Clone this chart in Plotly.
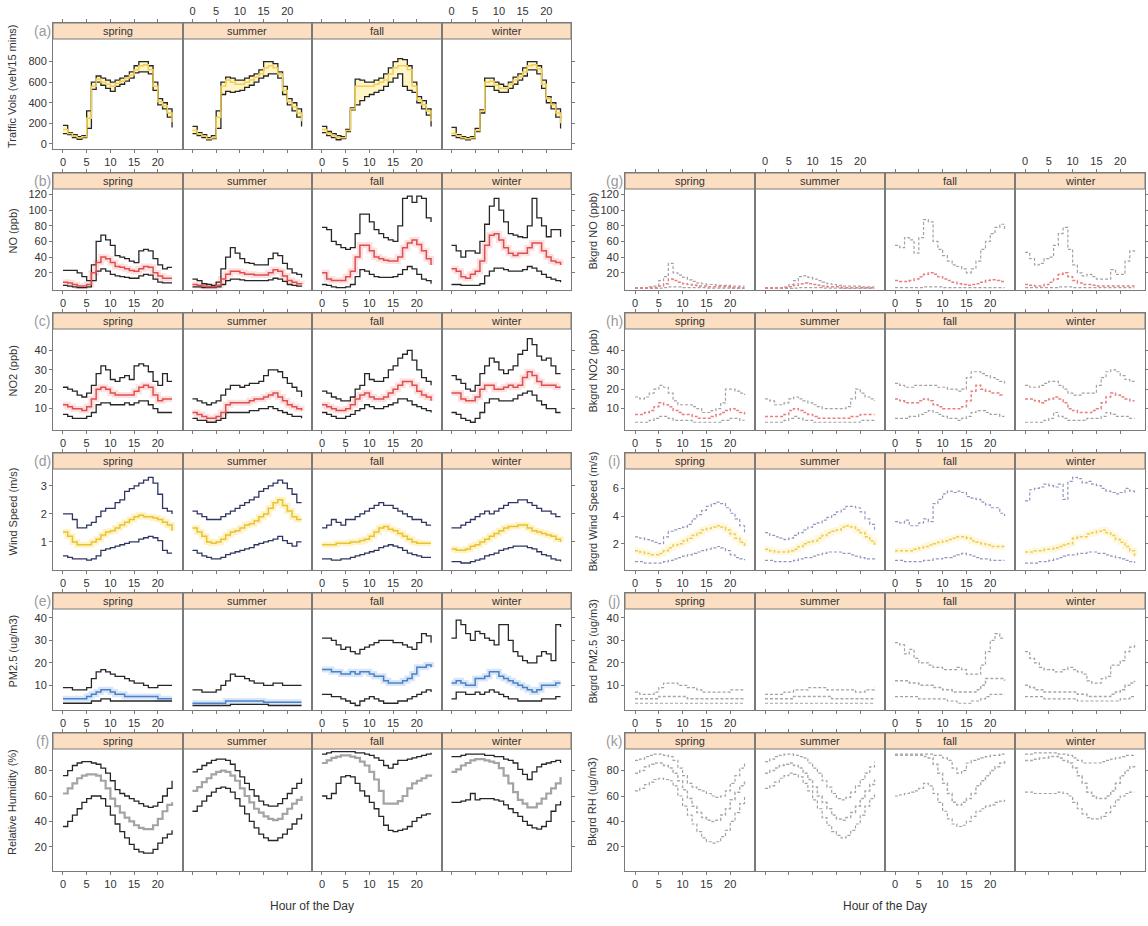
import plotly.graph_objects as go

hours = list(range(24))
seasons = ["spring", "summer", "fall", "winter"]
xtick_vals = [0, 5, 10, 15, 20]

# ---------------- (a) Traffic volume ----------------
traffic_hi = [
    [180,110,90,70,80,320,600,660,640,620,600,620,640,660,700,760,800,800,760,600,440,400,340,260],
    [170,110,90,60,80,320,600,650,640,620,620,640,660,680,720,800,800,780,700,560,440,400,340,260],
    [170,120,100,80,70,140,350,630,620,600,600,620,640,680,740,800,830,820,760,600,460,420,340,250],
    [160,90,70,60,70,150,330,640,640,600,580,560,600,650,680,740,800,800,760,620,460,400,340,250],
]
traffic_med = [
    [140,100,75,60,70,250,560,630,600,580,560,590,610,640,670,720,760,770,720,560,410,370,300,210],
    [130,95,75,50,60,260,560,620,600,580,580,600,620,650,680,740,760,740,680,520,410,360,300,220],
    [140,100,80,60,60,130,340,560,560,560,560,580,600,620,680,740,760,760,720,560,430,380,320,220],
    [100,80,60,50,60,130,320,600,610,570,540,540,580,620,650,700,760,770,730,580,440,380,300,200],
]
traffic_lo = [
    [100,90,60,45,60,150,530,600,570,540,510,560,580,610,640,690,700,700,680,520,380,340,260,160],
    [100,80,60,40,50,150,480,510,500,510,520,550,570,600,640,660,680,680,640,480,380,320,260,170],
    [110,80,60,40,50,120,330,380,420,460,480,500,520,560,600,640,680,560,520,500,400,340,280,170],
    [80,60,50,40,50,120,300,560,560,520,500,500,540,580,620,660,720,720,680,540,400,340,260,150],
]

# ---------------- (b) NO ----------------
no_hi = [
    [23,23,23,20,15,10,30,60,68,62,55,42,40,38,35,33,48,50,48,38,30,25,27,27],
    [12,10,6,5,4,8,25,40,52,45,38,33,32,30,30,30,38,45,42,32,25,20,18,14],
    [78,75,60,56,52,50,52,70,95,95,85,75,70,65,62,60,80,115,118,110,118,115,90,85],
    [55,48,40,48,48,45,60,82,105,115,100,85,70,68,66,65,80,115,90,80,66,75,75,66],
]
no_med = [
    [8,7,5,3,3,5,20,33,40,38,33,28,27,25,23,22,25,28,27,20,16,13,13,13],
    [5,4,3,2,2,4,12,18,22,22,20,18,18,17,17,17,20,24,22,16,10,8,6,5],
    [20,12,10,10,10,15,22,40,55,55,48,40,38,36,35,35,40,52,58,62,56,48,38,30],
    [25,22,15,13,18,22,35,55,68,70,62,52,45,42,45,45,52,58,58,48,40,35,33,30],
]
no_lo = [
    [4,3,2,1,1,2,10,22,25,22,18,16,15,14,13,13,16,18,17,12,8,7,7,7],
    [2,2,1,1,1,2,5,10,12,12,11,10,10,10,10,10,11,13,12,9,5,4,3,2],
    [5,4,2,1,1,2,5,15,24,22,18,15,14,14,14,15,18,24,28,25,18,12,10,6],
    [5,5,4,4,4,4,6,16,22,26,26,24,22,22,22,24,28,26,22,18,14,12,10,8],
]

# ---------------- (c) NO2 ----------------
no2_hi = [
    [21,20,19,17,16,18,22,28,32,30,25,24,26,27,25,32,33,32,29,24,22,28,24,24],
    [15,14,13,12,13,14,17,20,22,22,21,22,23,23,24,27,30,30,29,26,23,21,19,16],
    [19,18,16,15,14,14,16,20,22,28,25,24,24,26,30,32,36,38,40,35,30,26,24,22],
    [27,25,23,20,19,22,28,32,36,34,30,28,30,32,38,40,46,43,37,35,36,32,28,28],
]
no2_med = [
    [12,11,10,10,9,11,15,20,21,20,18,17,17,17,17,19,21,22,21,17,14,15,15,15],
    [8,7,6,5,5,6,8,12,13,13,13,13,14,15,15,16,17,18,16,14,12,11,10,9],
    [12,11,10,9,9,10,12,15,17,18,16,15,15,16,18,20,22,24,24,22,19,17,16,14],
    [18,18,15,14,14,16,20,22,22,20,20,21,22,21,22,26,29,27,24,22,22,22,21,21],
]
no2_lo = [
    [7,6,5,5,5,6,8,12,13,13,12,12,12,13,12,13,14,14,12,10,8,8,8,8],
    [5,4,4,3,3,4,5,8,8,8,8,8,9,9,10,10,11,10,9,8,7,6,6,5],
    [8,7,6,5,5,6,7,9,10,12,11,10,10,11,12,13,15,15,14,12,11,10,9,8],
    [8,7,5,4,3,5,8,13,15,15,14,14,14,15,17,18,19,17,14,12,10,10,8,8],
]

# ---------------- (d) Wind speed ----------------
ws_hi = [
    [2.0,2.0,1.8,1.5,1.5,1.6,1.7,1.9,2.1,2.2,2.2,2.4,2.5,2.8,2.9,3.0,3.1,3.2,3.3,3.1,2.7,2.2,2.1,2.0],
    [2.1,2.0,1.9,1.8,1.8,1.8,1.9,2.0,2.1,2.2,2.3,2.4,2.5,2.6,2.8,2.9,3.0,3.1,3.2,3.1,2.9,2.7,2.4,2.4],
    [1.5,1.6,1.8,1.7,1.6,1.8,1.8,1.9,2.0,2.1,2.2,2.3,2.4,2.3,2.3,2.2,2.1,2.0,1.9,1.8,1.8,1.7,1.6,1.6],
    [1.5,1.5,1.6,1.7,1.8,1.9,2.0,2.1,2.0,2.1,2.2,2.3,2.4,2.4,2.5,2.5,2.4,2.3,2.2,2.1,2.1,2.0,1.9,1.9],
]
ws_med = [
    [1.35,1.2,1.0,0.9,0.9,0.9,1.0,1.1,1.25,1.35,1.4,1.5,1.6,1.7,1.8,1.9,1.95,1.9,1.9,1.85,1.8,1.7,1.6,1.4],
    [1.5,1.35,1.2,1.0,0.95,1.0,1.1,1.25,1.35,1.4,1.5,1.6,1.65,1.75,1.9,2.0,2.2,2.4,2.5,2.3,2.1,1.9,1.8,1.8],
    [0.9,0.9,0.9,0.95,0.95,0.95,1.0,1.0,1.05,1.1,1.2,1.35,1.5,1.55,1.45,1.4,1.3,1.2,1.1,1.0,0.95,0.95,0.95,0.95],
    [0.75,0.7,0.7,0.75,0.85,0.9,1.0,1.1,1.2,1.3,1.4,1.5,1.55,1.55,1.6,1.6,1.5,1.4,1.35,1.3,1.25,1.2,1.1,1.0],
]
ws_lo = [
    [0.5,0.45,0.4,0.4,0.4,0.35,0.4,0.5,0.7,0.75,0.8,0.85,0.9,0.95,1.0,1.0,1.1,1.15,1.2,1.15,1.05,0.7,0.6,0.6],
    [0.7,0.6,0.5,0.45,0.4,0.4,0.45,0.55,0.6,0.65,0.7,0.75,0.8,0.9,0.95,1.0,1.05,1.1,1.2,1.05,0.95,0.85,1.0,1.0],
    [0.4,0.4,0.35,0.35,0.4,0.4,0.45,0.5,0.55,0.6,0.65,0.7,0.8,0.85,0.9,0.85,0.8,0.7,0.6,0.55,0.5,0.45,0.45,0.45],
    [0.3,0.3,0.25,0.25,0.3,0.35,0.4,0.5,0.55,0.6,0.7,0.75,0.8,0.85,0.85,0.85,0.8,0.75,0.65,0.55,0.5,0.4,0.35,0.3],
]

# ---------------- (e) PM2.5 ----------------
pm_hi = [
    [9,9,8,8,8,9,13,16,17,16,15,14,14,13,12,11,11,10,9,9,10,10,10,10],
    [8,8,7,7,7,8,10,12,15,14,14,13,12,11,11,10,10,11,11,10,10,10,10,10],
    [31,31,30,28,26,27,25,24,26,27,28,29,30,30,30,29,29,28,27,26,29,33,32,29],
    [31,39,37,33,30,34,33,31,30,28,37,37,30,25,23,21,20,20,23,25,24,21,37,36],
]
pm_med = [
    [4,4,4,4,4,5,6,7,8,8,7,6,6,5,5,5,5,5,5,5,4,4,4,4],
    [2,2,2,2,2,2,2,3,3,3,3,3,3,3,3,2.5,2.5,2.5,2.5,2.5,2.5,2.5,2.5,2.5],
    [17,17,16,16,15,15,16,15,16,16,15,14,14,12,11,11,11,12,13,15,18,18,19,18],
    [11,12,11,10,10,13,13,14,16,16,14,13,12,11,10,9,8,7,8,10,10,10,11,11],
]
pm_lo = [
    [2,2,2,2,2,2,3,3,4,4,3,3,3,3,3,3,3,3,3,3,3,3,3,3],
    [1,1,1,1,1,1,1,1,1.5,1.5,1.5,1.5,1.5,1.5,1.5,1.5,1,1,1,1,1,1,1,1],
    [6,6,5,5,4,3,2,1,3,4,5,4,3,2,2,2,3,3,4,5,6,7,8,7],
    [4,7,7,6,6,7,6,7,8,7,6,5,4,4,3,3,3,3,3,4,4,4,5,5],
]

# ---------------- (f) Relative humidity ----------------
rh_hi = [
    [76,80,84,86,87,87,86,85,82,78,72,65,62,60,58,56,54,52,51,52,55,60,66,72],
    [79,81,84,86,88,89,89,88,85,80,75,70,65,60,56,53,52,52,54,58,62,66,70,74],
    [93,94,95,95,95,95,95,94,94,93,92,90,88,84,82,85,88,88,89,90,91,92,93,94],
    [91,91,92,93,93,93,93,92,92,91,91,89,88,86,81,77,73,79,83,85,86,87,88,86],
]
rh_med = [
    [62,66,70,74,76,77,77,76,72,66,58,52,47,43,40,37,35,34,34,37,42,48,53,55],
    [64,67,71,74,77,79,80,79,76,72,66,60,55,50,47,44,42,41,42,46,50,54,57,60],
    [86,88,90,91,92,92,91,90,87,84,79,73,64,54,54,54,56,60,66,70,72,74,76,77],
    [79,81,84,86,88,89,89,88,87,86,82,76,70,63,57,54,51,51,54,58,62,66,70,75],
]
rh_lo = [
    [36,40,45,50,55,58,60,60,58,52,45,38,32,27,22,18,16,15,15,18,23,27,30,33],
    [48,52,56,60,63,66,67,66,63,58,52,46,40,35,30,27,25,25,27,30,34,38,42,46],
    [60,58,62,70,75,76,75,70,64,60,55,50,44,37,33,32,33,34,36,40,43,45,46,46],
    [55,55,56,57,62,57,58,58,58,57,56,53,50,47,44,40,37,35,34,36,40,48,53,56],
]

# ---------------- (g) Background NO ----------------
bno_hi = [
    [1,1,1,2,3,10,15,32,20,17,14,11,9,7,6,5,5,4,4,4,3,3,3,3],
    [1,1,1,1,2,5,10,15,16,14,12,10,8,6,5,4,3,3,3,3,2,2,2,2],
    [55,52,65,62,45,65,88,85,60,50,42,35,30,28,25,20,25,35,50,60,70,78,82,74],
    [46,38,30,32,38,40,55,70,78,50,30,20,16,18,15,12,12,12,24,18,18,35,48,44],
]
bno_med = [
    [0.5,0.5,0.5,1,1,3,6,12,10,8,6,5,4,3,3,2,2,2,2,2,1,1,1,1],
    [0.5,0.5,0.5,0.5,1,2,4,6,7,6,5,4,3,2,2,2,1,1,1,1,1,1,1,1],
    [10,9,9,10,12,15,18,20,18,15,12,10,8,6,5,4,5,6,8,10,11,10,9,9],
    [5,4,3,3,5,8,12,18,20,15,10,7,5,5,4,3,3,3,3,3,3,3,3,3],
]
bno_lo = [
    [0,0,0,0,0,0.5,1,2,2,2,1,1,1,1,1,0.5,0.5,0.5,0.5,0.5,0,0,0,0],
    [0,0,0,0,0,0,0.5,1,1,1,1,1,0.5,0.5,0.5,0.5,0,0,0,0,0,0,0,0],
    [1,1,1,1,1,1,2,2,2,2,1,1,1,1,1,1,1,1,1,1,1,1,1,1],
    [1,1,1,1,1,1,1,2,2,2,1,1,1,1,1,1,1,1,1,1,1,1,1,1],
]

# ---------------- (h) Background NO2 ----------------
bno2_hi = [
    [16,15,16,18,20,22,21,18,14,12,12,12,11,10,8,8,9,10,13,20,20,19,18,17],
    [15,14,12,12,13,15,16,15,14,13,12,11,10,10,10,10,10,11,15,20,18,16,15,14],
    [23,22,21,21,22,22,22,22,22,21,21,20,20,19,20,26,29,29,28,27,26,25,24,23],
    [22,21,21,22,23,24,24,22,20,18,17,17,18,18,18,22,26,29,30,29,27,25,24,24],
]
bno2_med = [
    [7,7,8,9,11,13,12,11,9,8,7,7,6,5,5,5,6,7,8,9,10,9,8,7],
    [6,6,6,6,7,9,10,9,8,7,6,5,5,5,5,5,5,5,6,6,7,7,7,7],
    [15,14,13,13,13,14,15,14,12,11,10,10,10,10,11,14,19,22,20,19,18,18,17,17],
    [15,15,14,13,14,15,16,15,13,10,9,8,8,8,9,10,13,16,18,17,16,15,14,14],
]
bno2_lo = [
    [3,3,3,4,5,6,6,5,4,4,4,4,3,3,3,3,3,3,4,4,5,5,4,4],
    [3,3,3,3,4,5,6,5,4,4,3,3,3,3,3,3,3,3,3,3,4,4,4,4],
    [5,5,5,6,6,7,8,9,8,7,6,5,5,4,5,6,8,9,9,8,7,7,6,6],
    [3,3,3,3,4,5,8,6,5,4,4,4,4,5,5,5,6,8,7,6,6,6,5,5],
]

# ---------------- (i) Background wind speed ----------------
bws_hi = [
    [2.5,2.4,2.3,2.2,2.1,2.0,2.5,2.9,3.0,3.1,3.2,3.4,3.8,4.1,4.4,4.7,4.9,5.0,4.9,4.6,4.2,3.8,3.3,2.7],
    [2.8,2.6,2.5,2.4,2.3,2.4,2.6,2.8,3.0,3.2,3.4,3.5,3.7,3.9,4.1,4.3,4.5,4.7,4.7,4.6,4.3,3.8,3.4,3.0],
    [3.6,3.5,3.7,3.3,3.3,3.5,3.8,3.6,4.9,5.2,5.6,5.8,5.7,5.8,5.7,5.4,5.3,5.2,5.0,4.8,4.6,4.6,4.2,4.0],
    [5.1,5.9,6.0,6.1,6.3,6.2,6.1,6.3,5.2,6.5,6.8,6.7,6.4,6.5,6.3,6.2,6.0,5.8,5.7,5.6,5.7,6.0,5.8,5.6],
]
bws_med = [
    [1.5,1.4,1.3,1.2,1.2,1.3,1.5,1.7,1.9,2.0,2.2,2.4,2.6,2.8,3.0,3.1,3.2,3.3,3.2,3.0,2.7,2.4,2.1,1.8],
    [1.6,1.5,1.4,1.4,1.4,1.5,1.6,1.8,2.0,2.1,2.2,2.4,2.6,2.8,2.9,3.0,3.2,3.3,3.2,3.0,2.8,2.5,2.2,1.9],
    [1.5,1.5,1.5,1.5,1.6,1.7,1.8,1.9,2.0,2.1,2.2,2.3,2.4,2.5,2.5,2.4,2.2,2.1,2.0,1.9,1.8,1.8,1.8,1.8],
    [1.4,1.4,1.5,1.5,1.6,1.6,1.7,1.8,1.9,2.0,2.4,2.5,2.5,2.7,2.8,2.9,3.0,2.8,2.6,2.3,2.1,1.8,1.5,1.1],
]
bws_lo = [
    [0.7,0.7,0.6,0.6,0.6,0.6,0.7,0.8,0.9,1.0,1.1,1.2,1.3,1.4,1.5,1.6,1.7,1.8,1.7,1.5,1.2,1.0,0.9,0.8],
    [0.8,0.8,0.7,0.7,0.7,0.7,0.8,0.9,1.0,1.0,1.1,1.2,1.3,1.4,1.4,1.4,1.3,1.3,1.2,1.1,1.0,0.9,0.9,0.8],
    [0.8,0.8,0.7,0.7,0.7,0.7,0.8,0.8,0.9,0.9,1.0,1.0,1.1,1.2,1.3,1.2,1.1,1.0,0.9,0.9,0.8,0.8,0.8,0.8],
    [0.6,0.6,0.6,0.7,0.7,0.8,0.9,1.0,1.1,1.2,1.2,1.3,1.3,1.4,1.4,1.3,1.3,1.2,1.1,1.0,0.9,0.8,0.7,0.6],
]

# ---------------- (j) Background PM2.5 ----------------
bpm_hi = [
    [7,6,6,6,7,9,11,11,11,10,10,9,9,8,7,7,7,7,7,7,8,8,8,8],
    [6,6,6,6,7,7,8,8,8,9,9,9,9,8,8,8,8,8,8,7,7,8,8,9],
    [29,28,24,26,22,20,20,19,18,18,17,17,17,18,17,15,15,15,19,25,30,33,31,31],
    [25,22,20,18,17,17,16,16,17,18,17,16,15,12,11,11,13,14,19,19,21,25,27,29],
]
bpm_med = [
    [4,4,4,4,4,5,5,5,5,5,5,4,4,4,4,4,4,4,4,4,4,4,4,4],
    [4,4,4,4,4,4,5,5,5,5,5,5,5,5,4,4,4,4,4,4,4,4,4,4],
    [12,12,12,11,11,10,10,10,9,9,8,8,7,7,7,7,7,8,10,13,13,13,13,12],
    [10,9,8,8,7,7,7,7,7,7,7,6,6,5,5,5,5,5,6,7,8,10,11,12],
]
bpm_lo = [
    [2,2,2,2,2,2,2,2,2,2,2,2,2,2,2,2,2,2,2,2,2,2,2,2],
    [2,2,2,2,2,2,2,2,2,2,2,2,2,2,2,2,2,2,2,2,2,2,2,2],
    [5,5,5,5,5,4,4,4,4,4,4,3,3,2,2,2,3,3,4,5,6,6,6,6],
    [5,5,5,5,4,4,4,4,4,4,4,3,3,3,3,3,3,3,3,3,4,4,5,5],
]

# ---------------- (k) Background RH ----------------
brh_hi = [
    [88,89,91,92,93,93,92,91,88,82,76,70,67,65,64,62,60,59,60,64,70,76,82,86],
    [87,89,91,92,93,93,92,91,90,86,82,78,72,67,62,58,57,59,63,68,73,78,83,87],
    [93,93,93,93,93,93,93,93,92,92,90,88,82,78,80,86,88,89,90,91,92,92,93,93],
    [93,93,94,94,94,94,94,93,93,92,90,88,86,86,86,86,87,88,89,90,91,92,92,93],
]
brh_med = [
    [78,80,83,85,86,86,84,82,78,72,65,58,52,47,43,41,40,41,45,50,57,63,68,72],
    [78,80,82,84,85,86,84,82,78,73,67,60,55,50,45,42,41,43,47,52,58,64,69,73],
    [92,92,92,92,92,92,91,90,85,78,70,62,55,53,55,58,62,68,72,76,80,83,86,88],
    [88,88,89,90,90,91,91,90,88,86,82,76,70,63,60,58,58,60,64,70,76,80,83,85],
]
brh_lo = [
    [64,66,69,71,73,74,73,72,68,60,52,45,38,32,27,24,23,24,28,33,40,47,54,60],
    [66,68,71,74,76,78,77,75,70,64,57,50,43,37,32,29,27,29,33,38,45,52,58,63],
    [60,61,62,63,64,66,70,68,62,55,48,42,38,36,37,40,44,48,50,52,53,55,56,57],
    [63,63,62,62,62,62,62,63,62,60,55,50,46,43,42,42,44,47,52,57,60,62,63,63],
]

# ---------------- figure layout (pixels) ----------------
W, H = 1148, 926
LEFT_X = [53, 182.5, 312, 441.5, 571]
RIGHT_X = [625, 755, 885, 1015, 1145]
# (strip_top, strip_bottom, plot_bottom)
ROW_Y = {
    "a": (23, 39, 149),
    "b": (173, 189, 290),
    "c": (313, 329, 430),
    "d": (453, 469, 570),
    "e": (593, 609, 710),
    "f": (733, 749, 871),
}
ROW_Y.update({"g": ROW_Y["b"], "h": ROW_Y["c"], "i": ROW_Y["d"], "j": ROW_Y["e"], "k": ROW_Y["f"]})

DARK = "#262626"
GREY_D = "#a2a2a2"
DOTS = "3px,2px"
rows = [
    dict(key="a", title="Traffic Vols (veh/15 mins)", hi=traffic_hi, med=traffic_med, lo=traffic_lo,
         yr=(-50, 1020), yt=[0, 200, 400, 600, 800], col="L", edge=DARK, medc="#F2CF55",
         band="fill", bandc="rgba(255,238,160,0.6)", dash="solid", toplabels=True),
    dict(key="b", title="NO (ppb)", hi=no_hi, med=no_med, lo=no_lo, yr=(-2, 127),
         yt=[20, 40, 60, 80, 100, 120], col="L", edge=DARK, medc="#DD5050",
         band="glow", bandc="rgba(255,185,185,0.45)", dash="solid", toplabels=False),
    dict(key="c", title="NO2 (ppb)", hi=no2_hi, med=no2_med, lo=no2_lo, yr=(-1, 51),
         yt=[10, 20, 30, 40], col="L", edge=DARK, medc="#DD5050",
         band="glow", bandc="rgba(255,185,185,0.45)", dash="solid", toplabels=False),
    dict(key="d", title="Wind Speed (m/s)", hi=ws_hi, med=ws_med, lo=ws_lo, yr=(0.0, 3.6),
         yt=[1, 2, 3], col="L", edge="#2f3563", medc="#E8C232",
         band="glow", bandc="rgba(255,232,140,0.5)", dash="solid", toplabels=False),
    dict(key="e", title="PM2.5 (ug/m3)", hi=pm_hi, med=pm_med, lo=pm_lo, yr=(-1, 44),
         yt=[10, 20, 30, 40], col="L", edge=DARK, medc="#4A82C8",
         band="glow", bandc="rgba(170,200,240,0.45)", dash="solid", toplabels=False),
    dict(key="f", title="Relative Humidity (%)", hi=rh_hi, med=rh_med, lo=rh_lo, yr=(1, 97),
         yt=[20, 40, 60, 80], col="L", edge=DARK, medc="#a4a4a4",
         band=None, bandc=None, dash="solid", toplabels=False),
    dict(key="g", title="Bkgrd NO (ppb)", hi=bno_hi, med=bno_med, lo=bno_lo, yr=(-2, 127),
         yt=[20, 40, 60, 80, 100, 120], col="R", edge=GREY_D, medc="#E88080",
         band=None, bandc=None, dash=DOTS, toplabels=True),
    dict(key="h", title="Bkgrd NO2 (ppb)", hi=bno2_hi, med=bno2_med, lo=bno2_lo, yr=(-1, 51),
         yt=[10, 20, 30, 40], col="R", edge=GREY_D, medc="#E88080",
         band=None, bandc=None, dash=DOTS, toplabels=False),
    dict(key="i", title="Bkgrd Wind Speed (m/s)", hi=bws_hi, med=bws_med, lo=bws_lo, yr=(0.1, 7.4),
         yt=[2, 4, 6], col="R", edge="#9296bf", medc="#EBCB55",
         band="glow", bandc="rgba(255,240,180,0.45)", dash=DOTS, toplabels=False),
    dict(key="j", title="Bkgrd PM2.5 (ug/m3)", hi=bpm_hi, med=bpm_med, lo=bpm_lo, yr=(-1, 44),
         yt=[10, 20, 30, 40], col="R", edge=GREY_D, medc="#a8a8a8",
         band=None, bandc=None, dash=DOTS, toplabels=False),
    dict(key="k", title="Bkgrd RH (ug/m3)", hi=brh_hi, med=brh_med, lo=brh_lo, yr=(1, 97),
         yt=[20, 40, 60, 80], col="R", edge=GREY_D, medc="#ababab",
         band=None, bandc=None, dash=DOTS, toplabels=False),
]

FONT = "Liberation Sans, Arial, sans-serif"
TXT = "#333333"
FRAME = "#7a7a7a"
STRIP_FILL = "#FCDFC2"
XR = [-2.1, 25.2]

fig = go.Figure()
layout = dict(width=W, height=H, margin=dict(l=0, r=0, t=0, b=0),
              paper_bgcolor="white", plot_bgcolor="white", showlegend=False,
              font=dict(family=FONT, size=11, color=TXT))
shapes, annotations = [], []

def px(x):
    return x / W

def py(y):
    return 1 - y / H

idx = 0
for row in rows:
    st, sb, pb = ROW_Y[row["key"]]
    xs = LEFT_X if row["col"] == "L" else RIGHT_X
    lo_v, hi_v = row["yr"]
    plot_h = pb - sb
    strip_h = sb - st
    ext_top = hi_v + (hi_v - lo_v) * strip_h / plot_h
    for s, season in enumerate(seasons):
        idx += 1
        xa = "xaxis" if idx == 1 else f"xaxis{idx}"
        ya = "yaxis" if idx == 1 else f"yaxis{idx}"
        xref = "x" if idx == 1 else f"x{idx}"
        yref = "y" if idx == 1 else f"y{idx}"
        x0, x1 = xs[s], xs[s + 1]

        top_lab = row["toplabels"] and s in (1, 3)
        bot_lab = s in (0, 2)
        layout[xa] = dict(domain=[px(x0), px(x1)], anchor=yref, range=XR,
                          tickvals=xtick_vals, ticks="outside", ticklen=3, tickcolor=FRAME,
                          showline=True, linecolor=FRAME, linewidth=1, mirror="allticks",
                          showgrid=False, zeroline=False, fixedrange=True,
                          showticklabels=top_lab or bot_lab, side="top" if top_lab else "bottom",
                          tickfont=dict(size=11, color=TXT))
        ydict = dict(domain=[py(pb), py(st)], anchor=xref, range=[lo_v, ext_top],
                     tickvals=row["yt"], showline=True, linecolor=FRAME, linewidth=1,
                     mirror=True, showgrid=False, zeroline=False, fixedrange=True,
                     tickfont=dict(size=11, color=TXT))
        if s == 0:
            ydict.update(ticks="outside", ticklen=3, tickcolor=FRAME, showticklabels=True, side="left")
        elif s == 3:
            ydict.update(ticks="outside", ticklen=3, tickcolor=FRAME, showticklabels=False, side="right")
        else:
            ydict.update(ticks="", showticklabels=False)
        layout[ya] = ydict

        hi, med, lo = row["hi"][s], row["med"][s], row["lo"][s]
        assert len(hi) == len(med) == len(lo) == 24
        common = dict(xaxis=xref, yaxis=yref, mode="lines", hoverinfo="skip")
        if row["band"] == "fill":
            fig.add_trace(go.Scatter(x=hours, y=lo, line=dict(width=0, shape="hv"), **common))
            fig.add_trace(go.Scatter(x=hours, y=hi, line=dict(width=0, shape="hv"),
                                     fill="tonexty", fillcolor=row["bandc"], **common))
        elif row["band"] == "glow":
            fig.add_trace(go.Scatter(x=hours, y=med, line=dict(width=6, shape="hv", color=row["bandc"]),
                                     **common))
        ew = 1.3 if row["col"] == "L" else 1.2
        fig.add_trace(go.Scatter(x=hours, y=hi, line=dict(width=ew, shape="hv", color=row["edge"],
                                                          dash=row["dash"]), **common))
        fig.add_trace(go.Scatter(x=hours, y=lo, line=dict(width=ew, shape="hv", color=row["edge"],
                                                          dash=row["dash"]), **common))
        mw = 1.5 if row["key"] != "f" else 2.2
        fig.add_trace(go.Scatter(x=hours, y=med, line=dict(width=mw, shape="hv", color=row["medc"],
                                                           dash=row["dash"]), **common))

        # strip
        shapes.append(dict(type="rect", xref="paper", yref="paper",
                           x0=px(x0), x1=px(x1), y0=py(sb), y1=py(st),
                           fillcolor=STRIP_FILL, line=dict(color=FRAME, width=1), layer="below"))
        annotations.append(dict(text=season, xref="paper", yref="paper",
                                x=px((x0 + x1) / 2), y=py((st + sb) / 2),
                                showarrow=False, xanchor="center", yanchor="middle",
                                font=dict(size=11, color=TXT)))

    # panel letter and y title
    xl = 42 if row["col"] == "L" else 614
    annotations.append(dict(text=f"({row['key']})", xref="paper", yref="paper",
                            x=px(xl), y=py((st + sb) / 2), showarrow=False,
                            xanchor="center", yanchor="middle",
                            font=dict(size=14, color="#9a9a9a")))
    xt = 12 if row["col"] == "L" else 592
    annotations.append(dict(text=row["title"], xref="paper", yref="paper",
                            x=px(xt), y=py((st + pb) / 2), showarrow=False, textangle=-90,
                            xanchor="center", yanchor="middle",
                            font=dict(size=11, color=TXT)))

for xc in ((LEFT_X[0] + LEFT_X[-1]) / 2, (RIGHT_X[0] + RIGHT_X[-1]) / 2):
    annotations.append(dict(text="Hour of the Day", xref="paper", yref="paper",
                            x=px(xc), y=py(906), showarrow=False,
                            xanchor="center", yanchor="middle",
                            font=dict(size=12, color=TXT)))

layout["shapes"] = shapes
layout["annotations"] = annotations
fig.update_layout(**layout)
fig.write_html("out.html", config={"displayModeBar": False},
               post_script="document.body.style.margin='0';document.body.style.overflow='hidden';")
